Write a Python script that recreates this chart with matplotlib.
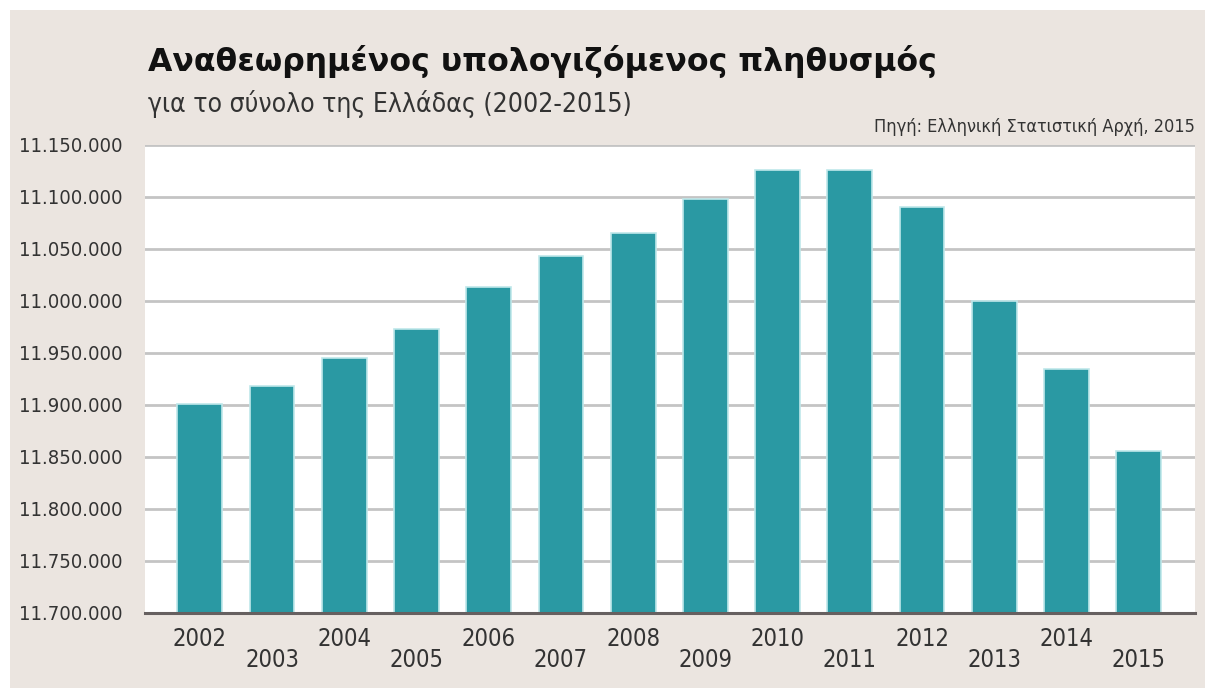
import matplotlib
matplotlib.use("Agg")
import matplotlib.pyplot as plt
from matplotlib.patches import Rectangle
from matplotlib.ticker import FixedLocator, FixedFormatter

years = ["2002", "2003", "2004", "2005", "2006", "2007", "2008",
         "2009", "2010", "2011", "2012", "2013", "2014", "2015"]
population = [10901000, 10918000, 10945000, 10973000, 11013000, 11043000, 11065000,
              11098000, 11126000, 11126000, 11090000, 11000000, 10935000, 10856000]
tick_values = [10700000, 10750000, 10800000, 10850000, 10900000,
               10950000, 11000000, 11050000, 11100000, 11150000]
tick_labels = ["11.700.000", "11.750.000", "11.800.000", "11.850.000", "11.900.000",
               "11.950.000", "11.000.000", "11.050.000", "11.100.000", "11.150.000"]

title = "Αναθεωρημένος υπολογιζόμενος πληθυσμός"
subtitle = "για το σύνολο της Ελλάδας (2002-2015)"
source = "Πηγή: Ελληνική Στατιστική Αρχή, 2015"

NARROW = dict(family="DejaVu Sans", stretch="condensed")

W, H = 1212, 690
fig = plt.figure(figsize=(W / 100, H / 100), dpi=100)
fig.patch.set_facecolor("white")
fig.patches.append(Rectangle((10 / W, 2 / H), 1195 / W, 678 / H,
                             transform=fig.transFigure, facecolor="#ebe5e0",
                             edgecolor="none", zorder=-10))

ax = fig.add_axes([145 / W, 1 - 613 / H, 1050 / W, 468 / H])
ax.set_zorder(1)
ax.set_facecolor("white")
x = list(range(len(years)))
ax.bar(x, [p - tick_values[0] for p in population], bottom=tick_values[0],
       width=0.62, color="#2a99a3", edgecolor="#bfe8ea", linewidth=1.2, zorder=3)
ax.set_ylim(tick_values[0], tick_values[-1])
ax.set_xlim(-0.76, 13.78)
ax.yaxis.set_major_locator(FixedLocator(tick_values))
ax.yaxis.set_major_formatter(FixedFormatter(tick_labels))
ax.grid(axis="y", color="#c4c4c4", linewidth=2, zorder=1)
ax.set_axisbelow(True)
for s in ["top", "right", "left"]:
    ax.spines[s].set_visible(False)
ax.spines["bottom"].set_color("#666060")
ax.spines["bottom"].set_linewidth(2.2)
ax.spines["bottom"].set_zorder(4)
ax.tick_params(axis="y", length=0, pad=16, labelsize=14.5, labelcolor="#333333")
for lab in ax.get_yticklabels():
    lab.set_fontfamily("DejaVu Sans")
    lab.set_fontstretch("condensed")
ax.set_xticks(x)
ax.set_xticklabels([])
ax.tick_params(axis="x", length=0)
for i, yr in enumerate(years):
    yoff = 0.055 if i % 2 == 0 else 0.10
    ax.text(i, -yoff, yr, transform=ax.get_xaxis_transform(), ha="center", va="center",
            fontsize=17, color="#333333", **NARROW)

fig.text(148 / W, 1 - 62 / H, title, fontsize=22.7, fontweight="heavy",
         color="#111111", ha="left", va="center", family="DejaVu Sans")
fig.text(148 / W, 1 - 104 / H, subtitle, fontsize=19, color="#333333",
         ha="left", va="center", **NARROW)
fig.text(1195 / W, 1 - 127 / H, source, fontsize=13, color="#333333",
         ha="right", va="center", **NARROW)

fig.savefig("out.png", dpi=100, facecolor=fig.get_facecolor())
